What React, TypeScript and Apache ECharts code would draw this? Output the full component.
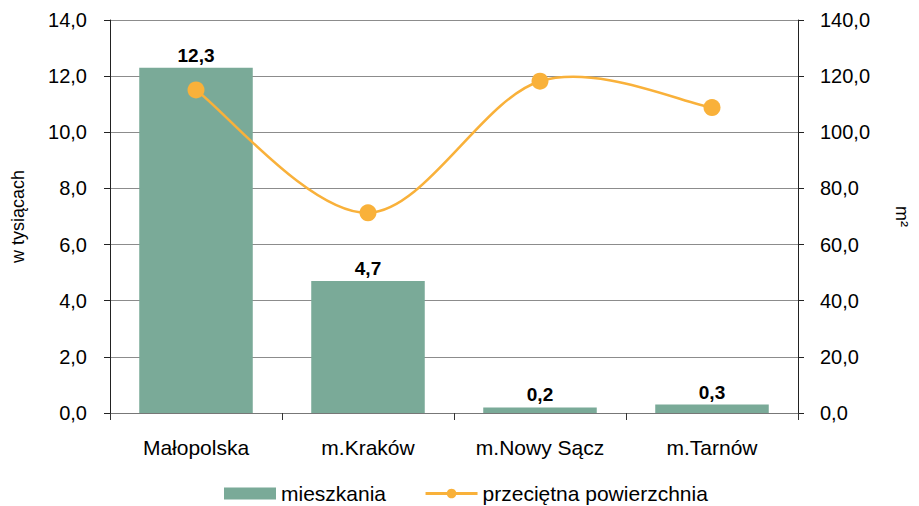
import React, { useEffect, useRef } from "react";
import * as echarts from "echarts";

const categories = ["Małopolska", "m.Kraków", "m.Nowy Sącz", "m.Tarnów"];
const mieszkania = [12.3, 4.7, 0.2, 0.3];
const powierzchnia = [115.1, 71.3, 118.2, 108.8];
const leftTicks = { min: 0, max: 14, interval: 2 };
const rightTicks = { min: 0, max: 140, interval: 20 };

const fmt = (v: number) => v.toFixed(1).replace(".", ",");
const FONT = "Liberation Sans, Arial, sans-serif";
const ORANGE = "#f9b13a";

export default function App() {
  const ref = useRef<HTMLDivElement>(null);
  useEffect(() => {
    if (!ref.current) return;
    const chart = echarts.init(ref.current, undefined, { renderer: "svg" });
    const curveData = powierzchnia.map((v, i) => [i, v]);
    chart.setOption({
      animation: false,
      textStyle: { fontFamily: FONT },
      grid: { left: 110, right: 116, top: 20, bottom: 93 },
      legend: {
        top: 478,
        left: 219,
        itemGap: 38,
        itemWidth: 52,
        itemHeight: 12,
        textStyle: { fontSize: 21, color: "#000", fontFamily: FONT },
        data: [
          { name: "mieszkania", icon: "rect" },
          {
            name: "przeciętna powierzchnia",
            lineStyle: { color: ORANGE, width: 3, opacity: 1 },
          },
        ],
      },
      xAxis: {
        type: "category",
        data: categories,
        boundaryGap: true,
        axisLine: { lineStyle: { color: "#777", width: 1 } },
        axisTick: { show: true, interval: 0, length: 7, lineStyle: { color: "#333" } },
        axisLabel: { fontSize: 21, color: "#000", margin: 24, fontFamily: FONT },
      },
      yAxis: [
        {
          type: "value",
          ...leftTicks,
          name: "w tysiącach",
          nameLocation: "middle",
          nameGap: 83,
          nameTextStyle: { fontSize: 18, color: "#000", fontFamily: FONT },
          axisLine: { show: true, lineStyle: { color: "#222" } },
          axisTick: { show: true, length: 6, lineStyle: { color: "#222" } },
          axisLabel: { fontSize: 20, color: "#000", margin: 23, formatter: fmt, fontFamily: FONT },
          splitLine: { show: true, lineStyle: { color: "#8c8c8c", width: 1 } },
        },
        {
          type: "value",
          ...rightTicks,
          name: "m²",
          nameLocation: "middle",
          nameRotate: -90,
          nameGap: 95,
          nameTextStyle: { fontSize: 18, color: "#000", fontFamily: FONT },
          axisLine: { show: true, lineStyle: { color: "#222" } },
          axisTick: { show: true, length: 6, lineStyle: { color: "#222" } },
          axisLabel: { fontSize: 20, color: "#000", margin: 22, formatter: fmt, fontFamily: FONT },
          splitLine: { show: false },
        },
      ],
      series: [
        {
          name: "mieszkania",
          type: "bar",
          yAxisIndex: 0,
          data: mieszkania,
          barCategoryGap: "34%",
          itemStyle: { color: "#7aaa98" },
          z: 2,
          label: {
            show: true,
            position: "top",
            distance: 3,
            fontSize: 19,
            fontWeight: "bold",
            color: "#000",
            fontFamily: FONT,
            formatter: (p: any) => fmt(p.value),
          },
        },
        {
          name: "krzywa",
          type: "custom",
          yAxisIndex: 1,
          z: 3,
          silent: true,
          data: curveData,
          encode: { x: 0, y: 1 },
          renderItem: (params: any, api: any) => {
            if (params.dataIndex !== 0) return null;
            const pts = curveData.map((d) => api.coord(d));
            const n = pts.length;
            let d = `M${pts[0][0]},${pts[0][1]}`;
            for (let i = 0; i < n - 1; i++) {
              const p0 = pts[Math.max(i - 1, 0)];
              const p1 = pts[i];
              const p2 = pts[i + 1];
              const p3 = pts[Math.min(i + 2, n - 1)];
              const c1x = p1[0] + (p2[0] - p0[0]) / 6;
              const c1y = p1[1] + (p2[1] - p0[1]) / 6;
              const c2x = p2[0] - (p3[0] - p1[0]) / 6;
              const c2y = p2[1] - (p3[1] - p1[1]) / 6;
              d += ` C${c1x},${c1y} ${c2x},${c2y} ${p2[0]},${p2[1]}`;
            }
            return {
              type: "path",
              shape: { pathData: d },
              style: { fill: "none", stroke: ORANGE, lineWidth: 2.5 },
            };
          },
        },
        {
          name: "przeciętna powierzchnia",
          type: "line",
          yAxisIndex: 1,
          data: powierzchnia,
          symbol: "circle",
          symbolSize: 17,
          z: 4,
          lineStyle: { color: ORANGE, width: 2.5, opacity: 0 },
          itemStyle: { color: ORANGE },
        },
      ],
    });
    return () => chart.dispose();
  }, []);
  return (
    <div
      ref={ref}
      style={{ position: "fixed", left: 0, top: 0, width: 919, height: 506, background: "#fff" }}
    />
  );
}
